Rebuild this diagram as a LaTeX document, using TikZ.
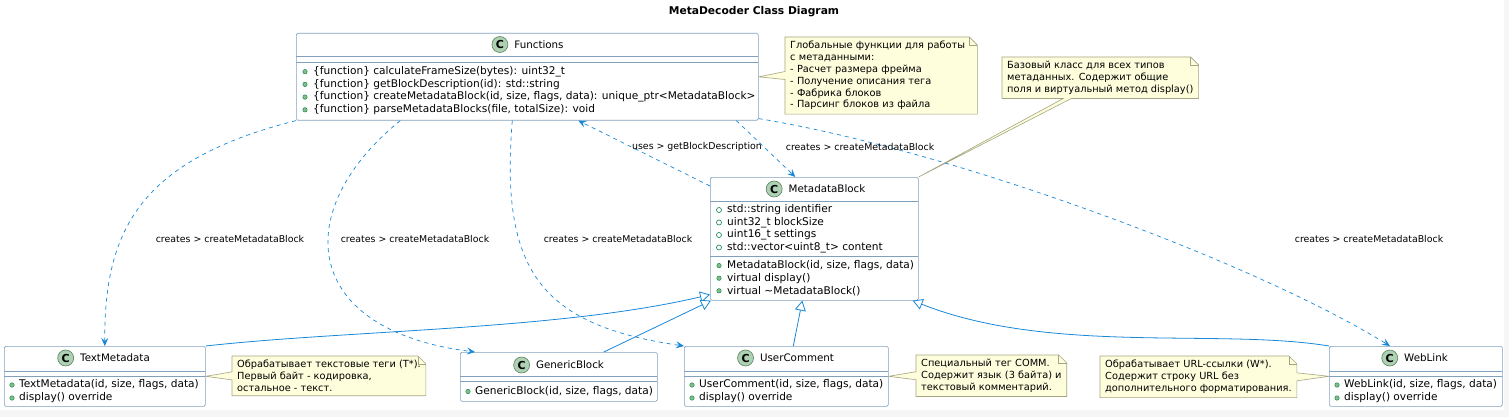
\documentclass[tikz,border=0pt]{standalone}
\usepackage{fontspec}
\setmainfont{DejaVu Sans}
\usetikzlibrary{positioning, arrows.meta, backgrounds}
\definecolor{clsline}{RGB}{128,160,190}
\definecolor{linkblue}{RGB}{24,136,216}
\definecolor{notefill}{RGB}{254,254,221}
\definecolor{notedraw}{RGB}{165,165,130}
\definecolor{cfill}{RGB}{173,209,178}
\definecolor{cdraw}{RGB}{90,130,95}
\definecolor{pubfill}{RGB}{132,190,132}
\definecolor{pubdraw}{RGB}{3,128,72}
\definecolor{pagegray}{RGB}{246,246,246}
\tikzstyle{cls} = [draw=clsline, fill=white, rounded corners=1.5pt, line width=0.6pt, inner sep=0pt]
\tikzstyle{clssep} = [draw=clsline, line width=0.6pt]
\tikzstyle{cname} = [font=\fontsize{10.3}{12}\selectfont, inner sep=0pt]
\tikzstyle{cmark} = [circle, draw=cdraw, fill=cfill, minimum size=16pt, inner sep=0pt, line width=0.6pt, font=\fontsize{11}{12}\selectfont\bfseries]
\tikzstyle{mem} = [anchor=west, inner sep=0pt, font=\fontsize{10.6}{12}\selectfont]
\tikzstyle{pubm} = [circle, draw=pubdraw, fill=pubfill, minimum size=4.5pt, inner sep=0pt, line width=0.4pt]
\tikzstyle{puba} = [circle, draw=pubdraw, fill=white, minimum size=5pt, inner sep=0pt, line width=0.6pt]
\tikzstyle{note} = [anchor=north west, align=left, inner xsep=5pt, inner ysep=4pt, font=\fontsize{9.8}{11.8}\selectfont]
\tikzstyle{notebox} = [draw=notedraw, fill=notefill, line width=0.6pt]
\tikzstyle{dep} = [draw=linkblue, dash pattern=on 4pt off 4pt, line width=0.7pt, -{Stealth[length=8pt, width=7pt, inset=3pt]}]
\tikzstyle{inh} = [draw=linkblue, line width=0.8pt, -{Triangle[open, fill=white, length=10pt, width=11pt]}]
\tikzstyle{lbl} = [font=\fontsize{9.4}{11}\selectfont, inner sep=1pt]

\begin{document}
\begin{tikzpicture}[x=1pt, y=-1pt]
    \begin{scope}[on background layer]
      \fill[pagegray] (0,0) rectangle (1509,417);
      \fill[white] (0,0) rectangle (1504,410);
    \end{scope}
    \useasboundingbox (0,0) rectangle (1509,417);

    \node[font=\bfseries\fontsize{10.7}{12}\selectfont] (title) at (754,12) {MetaDecoder Class Diagram};

    %%% Functions:
    \node[cls, minimum width=462pt, minimum height=87pt, anchor=north west] (fn) at (296,33) {};
    \node[cname] (fnname) at (539,44.5) {Functions};
    \node[cmark, left=6pt of fnname] (fnc) {C};
    \draw[clssep] (296,56) -- (758,56);
    \draw[clssep] (296,62) -- (758,62);
    \foreach \t [count=\i] in {
        {\{function\} calculateFrameSize(bytes): uint32\_t},
        {\{function\} getBlockDescription(id): std::string},
        {\{function\} createMetadataBlock(id, size, flags, data): unique\_ptr<MetadataBlock>},
        {\{function\} parseMetadataBlocks(file, totalSize): void}} {
      \node[mem] (fnm\i) at (313,59+12.7*\i) {\t};
      \node[pubm] at (305,59+12.7*\i) {};
    }

    %%% MetadataBlock:
    \node[cls, minimum width=208pt, minimum height=123pt, anchor=north west] (mb) at (710,177) {};
    \node[cname] (mbname) at (827,189) {MetadataBlock};
    \node[cmark, left=6pt of mbname] (mbc) {C};
    \draw[clssep] (710,201) -- (918,201);
    \draw[clssep] (710,256) -- (918,256);
    \foreach \t [count=\i] in {
        {std::string identifier},
        {uint32\_t blockSize},
        {uint16\_t settings},
        {std::vector<uint8\_t> content}} {
      \node[mem] (mba\i) at (727,197.5+12.5*\i) {\t};
      \node[puba] at (719,197.5+12.5*\i) {};
    }
    \foreach \t [count=\i] in {
        {MetadataBlock(id, size, flags, data)},
        {virtual display()},
        {virtual \textasciitilde MetadataBlock()}} {
      \node[mem] (mbm\i) at (727,253+12.6*\i) {\t};
      \node[pubm] at (719,253+12.6*\i) {};
    }

    %%% TextMetadata:
    \node[cls, minimum width=201pt, minimum height=60pt, anchor=north west] (tm) at (4,346) {};
    \node[cname] (tmname) at (115,358) {TextMetadata};
    \node[cmark, left=6pt of tmname] (tmc) {C};
    \draw[clssep] (4,371) -- (205,371);
    \draw[clssep] (4,376) -- (205,376);
    \node[mem] (tmm1) at (19,385) {TextMetadata(id, size, flags, data)};
    \node[pubm] at (12,385) {};
    \node[mem] (tmm2) at (19,398) {display() override};
    \node[pubm] at (12,398) {};

    %%% GenericBlock:
    \node[cls, minimum width=197pt, minimum height=49pt, anchor=north west] (gb) at (460,352) {};
    \node[cname] (gbname) at (570,365) {GenericBlock};
    \node[cmark, left=6pt of gbname] (gbc) {C};
    \draw[clssep] (460,376) -- (657,376);
    \draw[clssep] (460,381) -- (657,381);
    \node[mem] (gbm1) at (475,391.5) {GenericBlock(id, size, flags, data)};
    \node[pubm] at (468,391.5) {};

    %%% UserComment:
    \node[cls, minimum width=204pt, minimum height=60pt, anchor=north west] (uc) at (684,346) {};
    \node[cname] (ucname) at (797,358) {UserComment};
    \node[cmark, left=6pt of ucname] (ucc) {C};
    \draw[clssep] (684,371) -- (888,371);
    \draw[clssep] (684,376) -- (888,376);
    \node[mem] (ucm1) at (699,385) {UserComment(id, size, flags, data)};
    \node[pubm] at (692,385) {};
    \node[mem] (ucm2) at (699,398) {display() override};
    \node[pubm] at (692,398) {};

    %%% WebLink:
    \node[cls, minimum width=173pt, minimum height=60pt, anchor=north west] (wl) at (1329,346) {};
    \node[cname] (wlname) at (1426,358) {WebLink};
    \node[cmark, left=6pt of wlname] (wlc) {C};
    \draw[clssep] (1329,371) -- (1502,371);
    \draw[clssep] (1329,376) -- (1502,376);
    \node[mem] (wlm1) at (1344,385) {WebLink(id, size, flags, data)};
    \node[pubm] at (1337,385) {};
    \node[mem] (wlm2) at (1344,398) {display() override};
    \node[pubm] at (1337,398) {};

    %%% Notes:
    \node[note, text width=182pt] (fnnote) at (785,37) {Глобальные функции для работы\\с метаданными:\\- Расчет размера фрейма\\- Получение описания тега\\- Фабрика блоков\\- Парсинг блоков из файла};
    \node[note] (mbnote) at (1002,57) {Базовый класс для всех типов\\метаданных. Содержит общие\\поля и виртуальный метод display()};
    \node[note] (tmnote) at (232,356) {Обрабатывает текстовые теги (T*).\\Первый байт - кодировка,\\остальное - текст.};
    \node[note] (ucnote) at (916,355) {Специальный тег COMM.\\Содержит язык (3 байта) и\\текстовый комментарий.};
    \node[note] (wlnote) at (1100,356) {Обрабатывает URL-ссылки (W*).\\Содержит строку URL без\\дополнительного форматирования.};
    \begin{scope}[on background layer]
      \draw[notebox] (fnnote.north west) -- ([xshift=-8pt]fnnote.north east) -- ([yshift=-8pt]fnnote.north east)
        -- (fnnote.south east) -- (fnnote.south west) -- ([yshift=-4pt]fnnote.west) -- (fn.east) -- ([yshift=4pt]fnnote.west) -- cycle;
      \draw[notebox] (mbnote.north west) -- ([xshift=-8pt]mbnote.north east) -- ([yshift=-8pt]mbnote.north east)
        -- (mbnote.south east) -- ([xshift=-29pt]mbnote.south) -- (mb.north east) -- ([xshift=-37pt]mbnote.south) -- (mbnote.south west) -- cycle;
      \draw[notebox] (tmnote.north west) -- ([xshift=-8pt]tmnote.north east) -- ([yshift=-8pt]tmnote.north east)
        -- (tmnote.south east) -- (tmnote.south west) -- ([yshift=-4pt]tmnote.west) -- (tm.east) -- ([yshift=4pt]tmnote.west) -- cycle;
      \draw[notebox] (ucnote.north west) -- ([xshift=-8pt]ucnote.north east) -- ([yshift=-8pt]ucnote.north east)
        -- (ucnote.south east) -- (ucnote.south west) -- ([yshift=-4pt]ucnote.west) -- (uc.east) -- ([yshift=4pt]ucnote.west) -- cycle;
      \draw[notebox] (wlnote.north west) -- ([xshift=-8pt]wlnote.north east) -- ([yshift=-8pt]wlnote.north east)
        -- ([yshift=4pt]wlnote.east) -- (wl.west) -- ([yshift=-4pt]wlnote.east) -- (wlnote.south east) -- (wlnote.south west) -- cycle;
    \end{scope}
    \foreach \n in {fnnote, mbnote, tmnote, ucnote, wlnote} {
      \draw[draw=notedraw, line width=0.6pt] ([xshift=-8pt]\n.north east) -- ([shift={(-8pt,-8pt)}]\n.north east) -- ([yshift=-8pt]\n.north east);
    }

    %%% Dependencies:
    \path[dep] (fn.south west) .. controls (140,160) and (104,230) .. (tm.north);
    \path[dep] ([xshift=-127pt]fn.south) .. controls (290,210) and (300,330) .. ([xshift=15pt]gb.north west);
    \path[dep] ([xshift=-15pt]fn.south) .. controls (500,270) and (540,325) .. (uc.north west);
    \path[dep] ([yshift=-9pt]mb.north west) -- ([xshift=51pt]fn.south);
    \path[dep] ([xshift=209pt]fn.south) -- ([xshift=-19pt]mb.north);
    \path[dep] ([yshift=2pt]fn.south east) .. controls (950,150) and (1250,260) .. ([xshift=61pt]wl.north west);
    \node[lbl] (l1) at (230,239) {creates > createMetadataBlock};
    \node[lbl] (l2) at (415,239) {creates > createMetadataBlock};
    \node[lbl] (l3) at (618,239) {creates > createMetadataBlock};
    \node[lbl] (l4) at (697,147) {uses > getBlockDescription};
    \node[lbl] (l5) at (860,147) {creates > createMetadataBlock};
    \node[lbl] (l6) at (1369,239) {creates > createMetadataBlock};

    %%% Inheritance:
    \path[inh] (tm.north east) .. controls (350,330) and (560,330) .. ([yshift=6pt]mb.south west);
    \path[inh] ([xshift=45pt]gb.north) -- ([xshift=1pt]mb.south west);
    \path[inh] ([xshift=7pt]uc.north) -- ([xshift=-12pt]mb.south);
    \path[inh] (wl.north west) .. controls (1220,328) and (1050,355) .. ([xshift=-6pt]mb.south east);
  \end{tikzpicture}
\end{document}
